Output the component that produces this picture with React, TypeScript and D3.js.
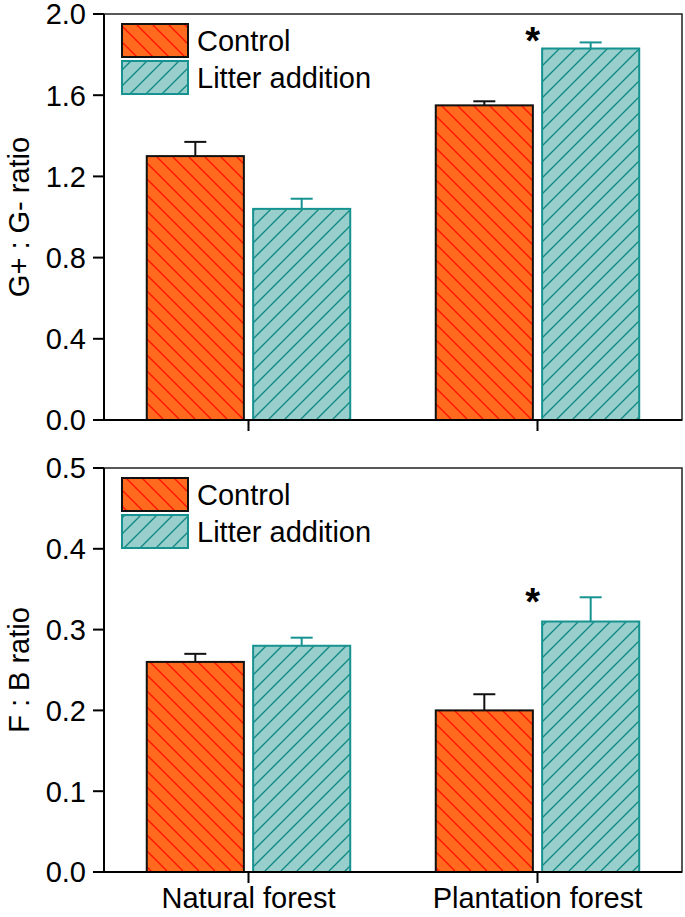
import React from "react";
import * as d3 from "d3";

const categories = ["Natural forest", "Plantation forest"];
const seriesNames = ["Control", "Litter addition"];

const gControl = [1.3, 1.55];
const gControlErr = [0.07, 0.02];
const gLitter = [1.04, 1.83];
const gLitterErr = [0.05, 0.03];
const gSignif = [false, true];
const gStarAt = [0, 1.89];
const gTicks = [0, 0.4, 0.8, 1.2, 1.6, 2.0];

const fControl = [0.26, 0.2];
const fControlErr = [0.01, 0.02];
const fLitter = [0.28, 0.31];
const fLitterErr = [0.01, 0.03];
const fSignif = [false, true];
const fStarAt = [0, 0.34];
const fTicks = [0, 0.1, 0.2, 0.3, 0.4, 0.5];

const W = 685;
const H = 917;
const FONT = "'Liberation Sans', Arial, sans-serif";
const FS = 29;

const CTRL_FILL = "#FF6A1F";
const CTRL_HATCH = "#FF1200";
const CTRL_STROKE = "#111111";
const LIT_FILL = "#98CFCC";
const LIT_HATCH = "#118A86";
const LIT_STROKE = "#169390";

const xLeft = 104;
const xRight = 682;
const x = d3.scaleLinear().domain([0.5, 2.5]).range([xLeft, xRight]);
const barW = 0.336;
const barGap = 0.016;

type PanelProps = {
  top: number;
  bottom: number;
  domainMax: number;
  ticks: number[];
  control: number[];
  controlErr: number[];
  litter: number[];
  litterErr: number[];
  signif: boolean[];
  starAt: number[];
  label: string;
  showXLabels: boolean;
};

function Panel(p: PanelProps) {
  const y = d3.scaleLinear().domain([0, p.domainMax]).range([p.bottom, p.top]);
  const fmt = d3.format(".1f");
  const capHalf = 11;
  const bars: React.ReactNode[] = [];
  categories.forEach((c, i) => {
    const center = i + 1;
    const specs = [
      { v: p.control[i], e: p.controlErr[i], x0: center - barGap - barW, fill: "url(#hatchCtrl)", stroke: CTRL_STROKE },
      { v: p.litter[i], e: p.litterErr[i], x0: center + barGap, fill: "url(#hatchLit)", stroke: LIT_STROKE },
    ];
    specs.forEach((s, j) => {
      const bx = x(s.x0);
      const bw = x(s.x0 + barW) - bx;
      const by = y(s.v);
      const bh = y(0) - by;
      const cx = bx + bw / 2;
      const ey = y(s.v + s.e);
      bars.push(
        <g key={`${i}-${j}`}>
          <line x1={cx} x2={cx} y1={by} y2={ey} stroke={s.stroke} strokeWidth={2} />
          <line x1={cx - capHalf} x2={cx + capHalf} y1={ey} y2={ey} stroke={s.stroke} strokeWidth={2} />
          <rect x={bx} y={by} width={bw} height={bh} fill={j === 0 ? CTRL_FILL : LIT_FILL} />
          <rect x={bx} y={by} width={bw} height={bh} fill={s.fill} stroke={s.stroke} strokeWidth={2} />
        </g>
      );
    });
    if (p.signif[i]) {
      const sx = x(center + barGap + barW / 2) - 58;
      const sy = y(p.starAt[i]);
      bars.push(
        <text key={`s${i}`} x={sx} y={sy + 18} textAnchor="middle" fontFamily={FONT} fontWeight="bold" fontSize={38}>
          *
        </text>
      );
    }
  });

  const legendY = p.top + 10;
  return (
    <g>
      <rect x={xLeft} y={p.top} width={xRight - xLeft} height={p.bottom - p.top} fill="none" stroke="#222" strokeWidth={1.5} />
      {bars}
      <line x1={xLeft} x2={xLeft} y1={p.top} y2={p.bottom} stroke="#000" strokeWidth={2} />
      {p.ticks.map((t) => (
        <g key={t}>
          <line x1={xLeft - 11} x2={xLeft} y1={y(t)} y2={y(t)} stroke="#000" strokeWidth={2} />
          <text x={xLeft - 18} y={y(t)} dy="0.36em" textAnchor="end" fontFamily={FONT} fontSize={FS} fill="#000">
            {fmt(t)}
          </text>
        </g>
      ))}
      <line x1={xLeft} x2={xRight} y1={p.bottom} y2={p.bottom} stroke="#000" strokeWidth={2} />
      {categories.map((c, i) => (
        <g key={c}>
          <line x1={x(i + 1)} x2={x(i + 1)} y1={p.bottom} y2={p.bottom + 11} stroke="#000" strokeWidth={2} />
          {p.showXLabels && (
            <text x={x(i + 1)} y={p.bottom + 36} textAnchor="middle" fontFamily={FONT} fontSize={FS} fill="#000">
              {c}
            </text>
          )}
        </g>
      ))}
      <text
        transform={`translate(19,${(p.top + p.bottom) / 2}) rotate(-90)`}
        textAnchor="middle"
        dy="0.35em"
        fontFamily={FONT}
        fontSize={FS}
        fill="#000"
      >
        {p.label}
      </text>
      {seriesNames.map((n, k) => {
        const ly = legendY + k * 37;
        return (
          <g key={n}>
            <rect x={122} y={ly} width={66} height={33} fill={k === 0 ? CTRL_FILL : LIT_FILL} />
            <rect
              x={122}
              y={ly}
              width={66}
              height={33}
              fill={k === 0 ? "url(#hatchCtrl)" : "url(#hatchLit)"}
              stroke={k === 0 ? CTRL_STROKE : LIT_STROKE}
              strokeWidth={2}
            />
            <text x={197} y={ly + 16.5} dy="0.36em" fontFamily={FONT} fontSize={FS} fill="#000">
              {n}
            </text>
          </g>
        );
      })}
    </g>
  );
}

export default function App() {
  return (
    <svg width={W} height={H} style={{ position: "absolute", left: 0, top: 0, background: "#fff" }}>
      <defs>
        <pattern id="hatchCtrl" patternUnits="userSpaceOnUse" width={16} height={16}>
          <path d="M0,0 L16,16 M-4,12 L4,20 M12,-4 L20,4" stroke={CTRL_HATCH} strokeWidth={1.4} />
        </pattern>
        <pattern id="hatchLit" patternUnits="userSpaceOnUse" width={16} height={16}>
          <path d="M0,16 L16,0 M-4,4 L4,-4 M12,20 L20,12" stroke={LIT_HATCH} strokeWidth={1.4} />
        </pattern>
      </defs>
      <rect x={0} y={0} width={W} height={H} fill="#fff" />
      <Panel
        top={14}
        bottom={420}
        domainMax={2.0}
        ticks={gTicks}
        control={gControl}
        controlErr={gControlErr}
        litter={gLitter}
        litterErr={gLitterErr}
        signif={gSignif}
        starAt={gStarAt}
        label="G+ : G- ratio"
        showXLabels={false}
      />
      <Panel
        top={468}
        bottom={872}
        domainMax={0.5}
        ticks={fTicks}
        control={fControl}
        controlErr={fControlErr}
        litter={fLitter}
        litterErr={fLitterErr}
        signif={fSignif}
        starAt={fStarAt}
        label="F : B ratio"
        showXLabels={true}
      />
    </svg>
  );
}
